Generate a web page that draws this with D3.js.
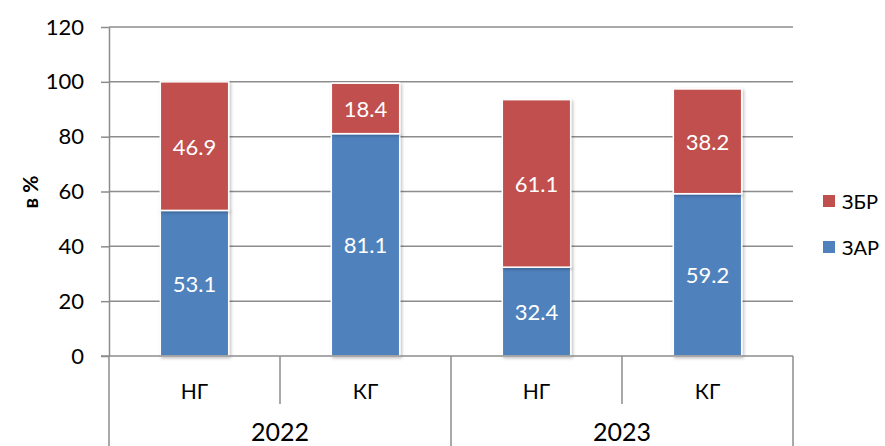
<!DOCTYPE html>
<html>
<head>
<meta charset="utf-8">
<script src="https://cdn.jsdelivr.net/npm/d3@7"></script>
<style>
  body { margin: 0; background: #fff; }
  svg { display: block; font-family: Lato, "Open Sans", sans-serif; }
  .grid line { stroke: #8c8c8c; stroke-width: 1.5; }
  .axis path, .axis line { stroke: #8c8c8c; stroke-width: 1.5; }
  .axis text { fill: #000; }
  .lbl { fill: #fff; font-size: 22px; }
</style>
</head>
<body>
<div id="chartDiv"></div>
<script>
// data
let years = ['2022', '2023'];
let periods = ['НГ', 'КГ', 'НГ', 'КГ'];
let zar = [53.1, 81.1, 32.4, 59.2];
let zbr = [46.9, 18.4, 61.1, 38.2];
let yTicks = [0, 20, 40, 60, 80, 100, 120];
let seriesNames = ['ЗБР', 'ЗАР'];
let colors = {'ЗАР': '#4f81bd', 'ЗБР': '#c0504d'};

let data = periods.map(function(p, i) {
    return {key: i, period: p, year: years[Math.floor(i / 2)], 'ЗАР': zar[i], 'ЗБР': zbr[i]};
});

let margin = {top: 27, right: 92, bottom: 90, left: 109};
let width = 885 - margin.left - margin.right;
let height = 446 - margin.top - margin.bottom;

let svg = d3.select('#chartDiv')
    .append('svg')
    .attr('width', 885)
    .attr('height', 446);

let defs = svg.append('defs');
let f = defs.append('filter').attr('id', 'shadow')
    .attr('x', '-10%').attr('y', '-10%').attr('width', '130%').attr('height', '130%');
f.append('feDropShadow').attr('dx', 1.5).attr('dy', 1.5).attr('stdDeviation', 1.5)
    .attr('flood-color', '#000').attr('flood-opacity', 0.25);

let g = svg.append('g').attr('transform', 'translate(' + margin.left + ',' + margin.top + ')');

let xScale = d3.scaleBand()
    .domain(data.map(function(d) {return d.key}))
    .range([0, width])
    .paddingInner(0.6)
    .paddingOuter(0.3);

let yScale = d3.scaleLinear()
    .domain([0, 120])
    .range([height, 0]);

// gridlines
g.append('g').attr('class', 'grid')
    .selectAll('line')
    .data(yTicks.filter(function(t) {return t > 0}))
    .enter()
    .append('line')
    .attr('x1', 0).attr('x2', width)
    .attr('y1', function(d) {return yScale(d)})
    .attr('y2', function(d) {return yScale(d)});

// y axis
g.append('g').attr('class', 'axis')
    .call(d3.axisLeft(yScale).tickValues(yTicks).tickSize(8).tickPadding(17).tickSizeOuter(0))
    .call(function(s) {
        s.attr('font-family', null);
        s.selectAll('text').attr('font-size', 22);
    });

// stacked bars
let stack = d3.stack().keys(['ЗАР', 'ЗБР']);
let layers = stack(data);

let layer = g.selectAll('.layer')
    .data(layers)
    .enter()
    .append('g')
    .attr('class', 'layer')
    .attr('fill', function(d) {return colors[d.key]});

layer.selectAll('rect')
    .data(function(d) {return d})
    .enter()
    .append('rect')
    .attr('x', function(d) {return xScale(d.data.key)})
    .attr('width', xScale.bandwidth())
    .attr('y', function(d) {return yScale(d[1])})
    .attr('height', function(d) {return yScale(d[0]) - yScale(d[1])})
    .attr('stroke', '#fff')
    .attr('stroke-width', 1.5)
    .attr('filter', 'url(#shadow)');

layer.selectAll('text')
    .data(function(d) {return d})
    .enter()
    .append('text')
    .attr('class', 'lbl')
    .attr('text-anchor', 'middle')
    .attr('dominant-baseline', 'central')
    .attr('x', function(d) {return xScale(d.data.key) + xScale.bandwidth() / 2})
    .attr('y', function(d) {return yScale((d[0] + d[1]) / 2)})
    .text(function(d) {return (d[1] - d[0]).toFixed(1)});

// x axis (two levels)
let bx = d3.scaleBand().domain(data.map(function(d) {return d.key})).range([0, width]);
let xa = g.append('g').attr('class', 'axis').attr('transform', 'translate(0,' + height + ')');
xa.append('line').attr('x1', -8).attr('x2', width).attr('y1', 0).attr('y2', 0);
xa.selectAll('.div')
    .data(data.map(function(d) {return d.key}).concat([data.length]))
    .enter()
    .append('line')
    .attr('x1', function(d) {return d < data.length ? bx(d) : width})
    .attr('x2', function(d) {return d < data.length ? bx(d) : width})
    .attr('y1', 0)
    .attr('y2', function(d) {return d % 2 === 0 ? 90 : 48});
xa.selectAll('.per')
    .data(data)
    .enter()
    .append('text')
    .attr('text-anchor', 'middle')
    .attr('font-size', 21)
    .attr('x', function(d) {return bx(d.key) + bx.bandwidth() / 2})
    .attr('y', 43)
    .text(function(d) {return d.period});
xa.selectAll('.yr')
    .data(years)
    .enter()
    .append('text')
    .attr('text-anchor', 'middle')
    .attr('font-size', 25)
    .attr('x', function(d, i) {return bx(i * 2) + bx.bandwidth()})
    .attr('y', 85)
    .text(function(d) {return d});

// y title
svg.append('text')
    .attr('transform', 'translate(29,192) rotate(-90)')
    .attr('text-anchor', 'middle')
    .attr('dominant-baseline', 'central')
    .attr('font-weight', 'bold')
    .attr('font-size', 21)
    .text('в %');

// legend
let leg = svg.append('g').attr('transform', 'translate(823,0)');
let items = leg.selectAll('g')
    .data(seriesNames)
    .enter()
    .append('g')
    .attr('transform', function(d, i) {return 'translate(0,' + (201 + i * 46) + ')'});
items.append('rect')
    .attr('x', 0).attr('y', -6).attr('width', 12).attr('height', 12)
    .attr('fill', function(d) {return colors[d]});
items.append('text')
    .attr('x', 19)
    .attr('dominant-baseline', 'central')
    .attr('font-size', 20)
    .text(function(d) {return d});
</script>
</body>
</html>
